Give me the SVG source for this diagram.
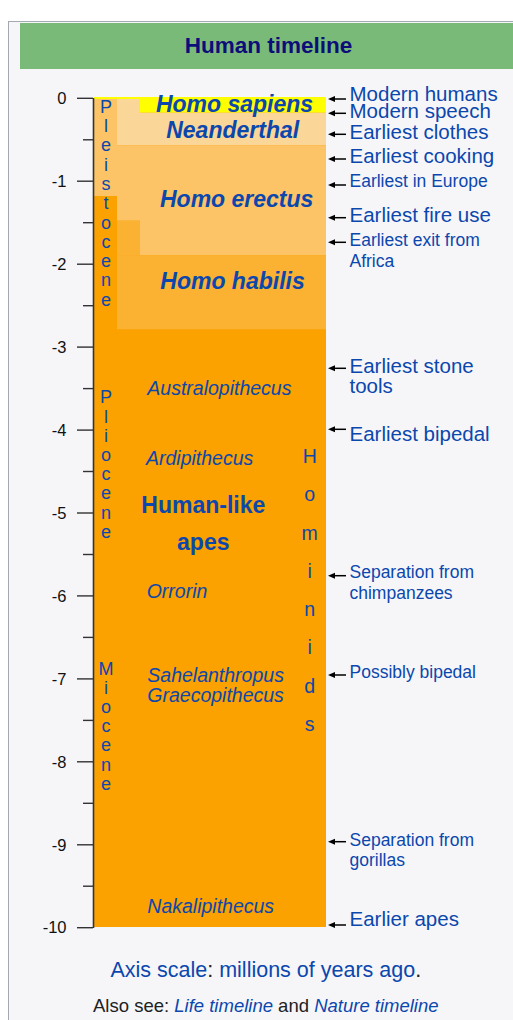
<svg xmlns="http://www.w3.org/2000/svg" width="513" height="1020" viewBox="0 0 513 1020">
<defs>
<style>
text{font-family:"Liberation Sans",Arial,Helvetica,sans-serif}
.blue{fill:#0b47ad}
.big{font-size:20.5px}
.small{font-size:17.5px}
.sp{font-size:23px;font-weight:bold;font-style:italic;text-anchor:middle}
.gen{font-size:19.5px;font-style:italic}
.ax{font-size:16.5px;fill:#111;text-anchor:end}
.tick{stroke:#333;stroke-width:1.4}
.vert{font-size:18px;text-anchor:middle}
.arr{stroke:#000;stroke-width:1.5;fill:none;marker-end:url(#ah)}
</style>
<marker id="ah" viewBox="0 0 7 7" refX="1" refY="3.5" markerWidth="7" markerHeight="7" markerUnits="userSpaceOnUse" orient="auto">
<path d="M0,0.5 L7,3.5 L0,6.5 z" fill="#000"/>
</marker>
</defs>
<rect x="0" y="0" width="513" height="1020" fill="#ffffff"/>
<rect id="frame" x="8.5" y="21.5" width="520" height="1010" fill="#f6f6f9" stroke="#a2a9b1" stroke-width="1"/>
<g id="header">
<rect x="20" y="23" width="500" height="46" fill="#7aba78"/>
<text x="268.5" y="53.3" text-anchor="middle" font-size="22.5" font-weight="bold" fill="#0d0d7a">Human timeline</text>
</g>
<g id="bars">
<rect id="miocene-bar" x="94" y="97" width="232" height="830" fill="#fba100"/>
<rect id="sapiens-bar" x="94" y="97" width="232" height="15.7" fill="#ffff00"/>
<rect id="pleistocene-col" x="94" y="99" width="23" height="97" fill="#fcc466"/>
<rect id="neanderthal-bar" x="117" y="99" width="23" height="46.3" fill="#fbd699"/>
<rect id="neanderthal-bar2" x="140" y="112.7" width="186" height="32.6" fill="#fbd699"/>
<rect id="erectus-bar" x="117" y="145.3" width="209" height="110" fill="#fcc466"/>
<rect id="habilis-bar" x="117" y="255.3" width="209" height="74" fill="#fbb131"/>
<rect id="habilis-bar2" x="117" y="220.3" width="23" height="35" fill="#fbb131"/>
</g>
<g id="axis">
<line x1="93.5" y1="98" x2="93.5" y2="928" stroke="#333" stroke-width="1.6"/>
<g class="tick">
<line x1="77" y1="98.3" x2="93" y2="98.3"/><line x1="83" y1="139.8" x2="93" y2="139.8"/>
<line x1="77" y1="181.2" x2="93" y2="181.2"/><line x1="83" y1="222.7" x2="93" y2="222.7"/>
<line x1="77" y1="264.2" x2="93" y2="264.2"/><line x1="83" y1="305.7" x2="93" y2="305.7"/>
<line x1="77" y1="347.1" x2="93" y2="347.1"/><line x1="83" y1="388.6" x2="93" y2="388.6"/>
<line x1="77" y1="430.1" x2="93" y2="430.1"/><line x1="83" y1="471.5" x2="93" y2="471.5"/>
<line x1="77" y1="513" x2="93" y2="513"/><line x1="83" y1="554.5" x2="93" y2="554.5"/>
<line x1="77" y1="595.9" x2="93" y2="595.9"/><line x1="83" y1="637.4" x2="93" y2="637.4"/>
<line x1="77" y1="678.9" x2="93" y2="678.9"/><line x1="83" y1="720.4" x2="93" y2="720.4"/>
<line x1="77" y1="761.8" x2="93" y2="761.8"/><line x1="83" y1="803.3" x2="93" y2="803.3"/>
<line x1="77" y1="844.8" x2="93" y2="844.8"/><line x1="83" y1="886.2" x2="93" y2="886.2"/>
<line x1="77" y1="927.7" x2="93" y2="927.7"/>
</g>
<text class="ax" x="66.5" y="104">0</text>
<text class="ax" x="66.5" y="187">-1</text>
<text class="ax" x="66.5" y="270">-2</text>
<text class="ax" x="66.5" y="353">-3</text>
<text class="ax" x="66.5" y="436">-4</text>
<text class="ax" x="66.5" y="519">-5</text>
<text class="ax" x="66.5" y="601.6">-6</text>
<text class="ax" x="66.5" y="684.6">-7</text>
<text class="ax" x="66.5" y="767.5">-8</text>
<text class="ax" x="66.5" y="850.5">-9</text>
<text class="ax" x="66.5" y="933.4">-10</text>
</g>
<g id="epochs" class="blue">
<text id="pleistocene" class="vert blue" x="106" y="112.7"><tspan x="106">P</tspan><tspan x="106" dy="19.3">l</tspan><tspan x="106" dy="19.3">e</tspan><tspan x="106" dy="19.3">i</tspan><tspan x="106" dy="19.3">s</tspan><tspan x="106" dy="19.3">t</tspan><tspan x="106" dy="19.3">o</tspan><tspan x="106" dy="19.3">c</tspan><tspan x="106" dy="19.3">e</tspan><tspan x="106" dy="19.3">n</tspan><tspan x="106" dy="19.3">e</tspan></text>
<text id="pliocene" class="vert blue" x="106" y="403.3"><tspan x="106">P</tspan><tspan x="106" dy="19.2">l</tspan><tspan x="106" dy="19.2">i</tspan><tspan x="106" dy="19.2">o</tspan><tspan x="106" dy="19.2">c</tspan><tspan x="106" dy="19.2">e</tspan><tspan x="106" dy="19.2">n</tspan><tspan x="106" dy="19.2">e</tspan></text>
<text id="miocene" class="vert blue" x="106" y="675"><tspan x="106">M</tspan><tspan x="106" dy="19.1">i</tspan><tspan x="106" dy="19.1">o</tspan><tspan x="106" dy="19.1">c</tspan><tspan x="106" dy="19.1">e</tspan><tspan x="106" dy="19.1">n</tspan><tspan x="106" dy="19.1">e</tspan></text>
<text id="hominids" class="blue" x="309.7" y="463" font-size="19.5" text-anchor="middle"><tspan x="309.7">H</tspan><tspan x="309.7" dy="38.25">o</tspan><tspan x="309.7" dy="38.25">m</tspan><tspan x="309.7" dy="38.25">i</tspan><tspan x="309.7" dy="38.25">n</tspan><tspan x="309.7" dy="38.25">i</tspan><tspan x="309.7" dy="38.25">d</tspan><tspan x="309.7" dy="38.25">s</tspan></text>
</g>
<g id="species">
<text id="homo-sapiens" class="sp blue" x="234.5" y="111.7">Homo sapiens</text>
<text id="neanderthal" class="sp blue" x="232.7" y="138.3">Neanderthal</text>
<text id="homo-erectus" class="sp blue" x="236.7" y="206.7">Homo erectus</text>
<text id="homo-habilis" class="sp blue" x="232.5" y="289.3">Homo habilis</text>
<text id="australopithecus" class="gen blue" x="147.3" y="395">Australopithecus</text>
<text id="ardipithecus" class="gen blue" x="146" y="465">Ardipithecus</text>
<g id="human-like-apes"><text class="blue" x="203.3" y="513.3" font-size="23" font-weight="bold" text-anchor="middle">Human-like</text><text class="blue" x="203.3" y="550" font-size="23" font-weight="bold" text-anchor="middle">apes</text></g>
<text id="orrorin" class="gen blue" x="146.7" y="597.7">Orrorin</text>
<text id="sahelanthropus" class="gen blue" x="147.3" y="681.7">Sahelanthropus</text>
<text id="graecopithecus" class="gen blue" x="147.3" y="702.3">Graecopithecus</text>
<text id="nakalipithecus" class="gen blue" x="147.3" y="912.7">Nakalipithecus</text>
</g>
<g id="connectors">
<path class="arr" d="M346,99 H334"/>
<path class="arr" d="M346,113.3 H334"/>
<path class="arr" d="M346,134.3 H334"/>
<path class="arr" d="M346,159 H334"/>
<path class="arr" d="M346,185 H334"/>
<path class="arr" d="M346,217.7 H334"/>
<path class="arr" d="M346,242.3 H334"/>
<path class="arr" d="M346,368.3 H334"/>
<path class="arr" d="M346,429.3 H334"/>
<path class="arr" d="M346,575.7 H334"/>
<path class="arr" d="M346,675 H334"/>
<path class="arr" d="M346,841.7 H334"/>
<path class="arr" d="M346,925 H334"/>
</g>
<g id="events">
<text id="modern-humans" class="big blue" x="349.5" y="100.5">Modern humans</text>
<text id="modern-speech" class="big blue" x="349.5" y="117.5">Modern speech</text>
<text id="earliest-clothes" class="big blue" x="349.5" y="138.5">Earliest clothes</text>
<text id="earliest-cooking" class="big blue" x="349.5" y="162.5">Earliest cooking</text>
<text id="earliest-europe" class="small blue" x="349.5" y="187">Earliest in Europe</text>
<text id="earliest-fire" class="big blue" x="349.5" y="222">Earliest fire use</text>
<text id="earliest-exit" class="small blue" x="349.5" y="246"><tspan x="349.5">Earliest exit from</tspan><tspan x="349.5" dy="20.5">Africa</tspan></text>
<text id="earliest-stone" class="big blue" x="349.5" y="373"><tspan x="349.5">Earliest stone</tspan><tspan x="349.5" dy="20">tools</tspan></text>
<text id="earliest-bipedal" class="big blue" x="349.5" y="441">Earliest bipedal</text>
<text id="sep-chimps" class="small blue" x="349.5" y="578"><tspan x="349.5">Separation from</tspan><tspan x="349.5" dy="20.5">chimpanzees</tspan></text>
<text id="possibly-bipedal" class="small blue" x="349.5" y="678">Possibly bipedal</text>
<text id="sep-gorillas" class="small blue" x="349.5" y="845.5"><tspan x="349.5">Separation from</tspan><tspan x="349.5" dy="20.5">gorillas</tspan></text>
<text id="earlier-apes" class="big blue" x="349.5" y="926">Earlier apes</text>
</g>
<g id="footer">
<text x="265.8" y="976.7" font-size="21.5" text-anchor="middle" fill="#202122"><tspan class="blue">Axis scale</tspan>: <tspan class="blue">millions of years ago</tspan>.</text>
<text x="265.8" y="1011.7" font-size="18.5" text-anchor="middle" fill="#202122">Also see: <tspan class="blue" font-style="italic">Life timeline</tspan> and <tspan class="blue" font-style="italic">Nature timeline</tspan></text>
</g>
</svg>
